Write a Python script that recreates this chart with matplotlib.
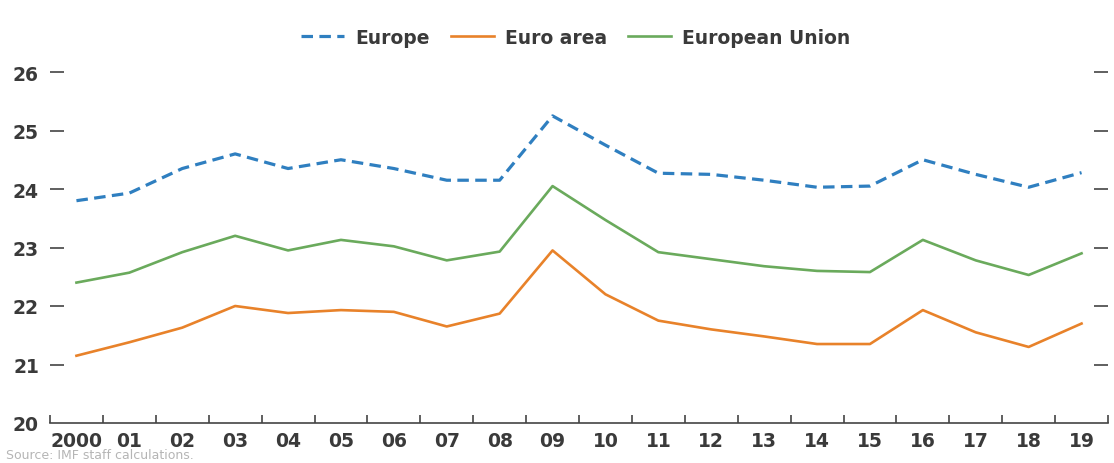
import matplotlib.pyplot as plt
from matplotlib.ticker import FixedLocator, NullFormatter

plt.rcParams['font.family'] = ['DejaVu Sans']
plt.rcParams['font.weight'] = 'bold'

years = ['2000', '01', '02', '03', '04', '05', '06', '07', '08', '09',
         '10', '11', '12', '13', '14', '15', '16', '17', '18', '19']

europe = [23.80, 23.93, 24.35, 24.60, 24.35, 24.50, 24.35, 24.15, 24.15, 25.25,
          24.75, 24.27, 24.25, 24.15, 24.03, 24.05, 24.50, 24.25, 24.03, 24.28]
euro_area = [21.15, 21.38, 21.63, 22.00, 21.88, 21.93, 21.90, 21.65, 21.87, 22.95,
             22.20, 21.75, 21.60, 21.48, 21.35, 21.35, 21.93, 21.55, 21.30, 21.70]
eu = [22.40, 22.57, 22.92, 23.20, 22.95, 23.13, 23.02, 22.78, 22.93, 24.05,
      23.47, 22.92, 22.80, 22.68, 22.60, 22.58, 23.13, 22.78, 22.53, 22.90]

txt = '#3a3a3a'

fig = plt.figure(figsize=(11.14, 4.64), dpi=100)
ax = fig.add_axes([50 / 1114, 40 / 464, 1058 / 1114, 351 / 464])

x = range(len(years))
ax.plot(x, europe, color='#2f7fc0', lw=2.3, ls=(0, (3.6, 2.0)), label='Europe')
ax.plot(x, euro_area, color='#e8822a', lw=1.9, label='Euro area')
ax.plot(x, eu, color='#6aaa5c', lw=1.9, label='European Union')

ax.set_xlim(-0.5, 19.5)
ax.set_ylim(20, 26)

for s in ['top', 'left', 'right']:
    ax.spines[s].set_visible(False)
ax.spines['bottom'].set_color('#444444')
ax.spines['bottom'].set_linewidth(1.2)

ax.set_xticks(list(x))
ax.set_xticklabels(years)
ax.xaxis.set_minor_locator(FixedLocator([i - 0.5 for i in range(len(years) + 1)]))
ax.xaxis.set_minor_formatter(NullFormatter())
ax.tick_params(axis='x', which='major', length=0, pad=6, labelsize=13.5, labelcolor=txt)
ax.tick_params(axis='x', which='minor', length=6, width=1.2, direction='in', color='#444444')

ax.set_yticks([20, 21, 22, 23, 24, 25, 26])
ax.tick_params(axis='y', which='major', left=True, right=True, direction='in',
               length=10, width=1.2, color='#444444', labelsize=13.5, labelcolor=txt, pad=8)
# tick marks on 20 hidden (sits on the baseline)
ax.yaxis.get_major_ticks()[0].tick1line.set_visible(False)
ax.yaxis.get_major_ticks()[0].tick2line.set_visible(False)

leg = fig.legend(loc='center', bbox_to_anchor=(0.517, 0.918), ncol=3, frameon=False,
                 fontsize=13.5, handlelength=2.3, columnspacing=1.1, handletextpad=0.6)
for t in leg.get_texts():
    t.set_color(txt)

fig.text(0.005, 0.004, 'Source: IMF staff calculations.', color='#b5b5b5', fontsize=9,
         va='bottom', fontweight='normal')

fig.savefig('out.png', dpi=100)
